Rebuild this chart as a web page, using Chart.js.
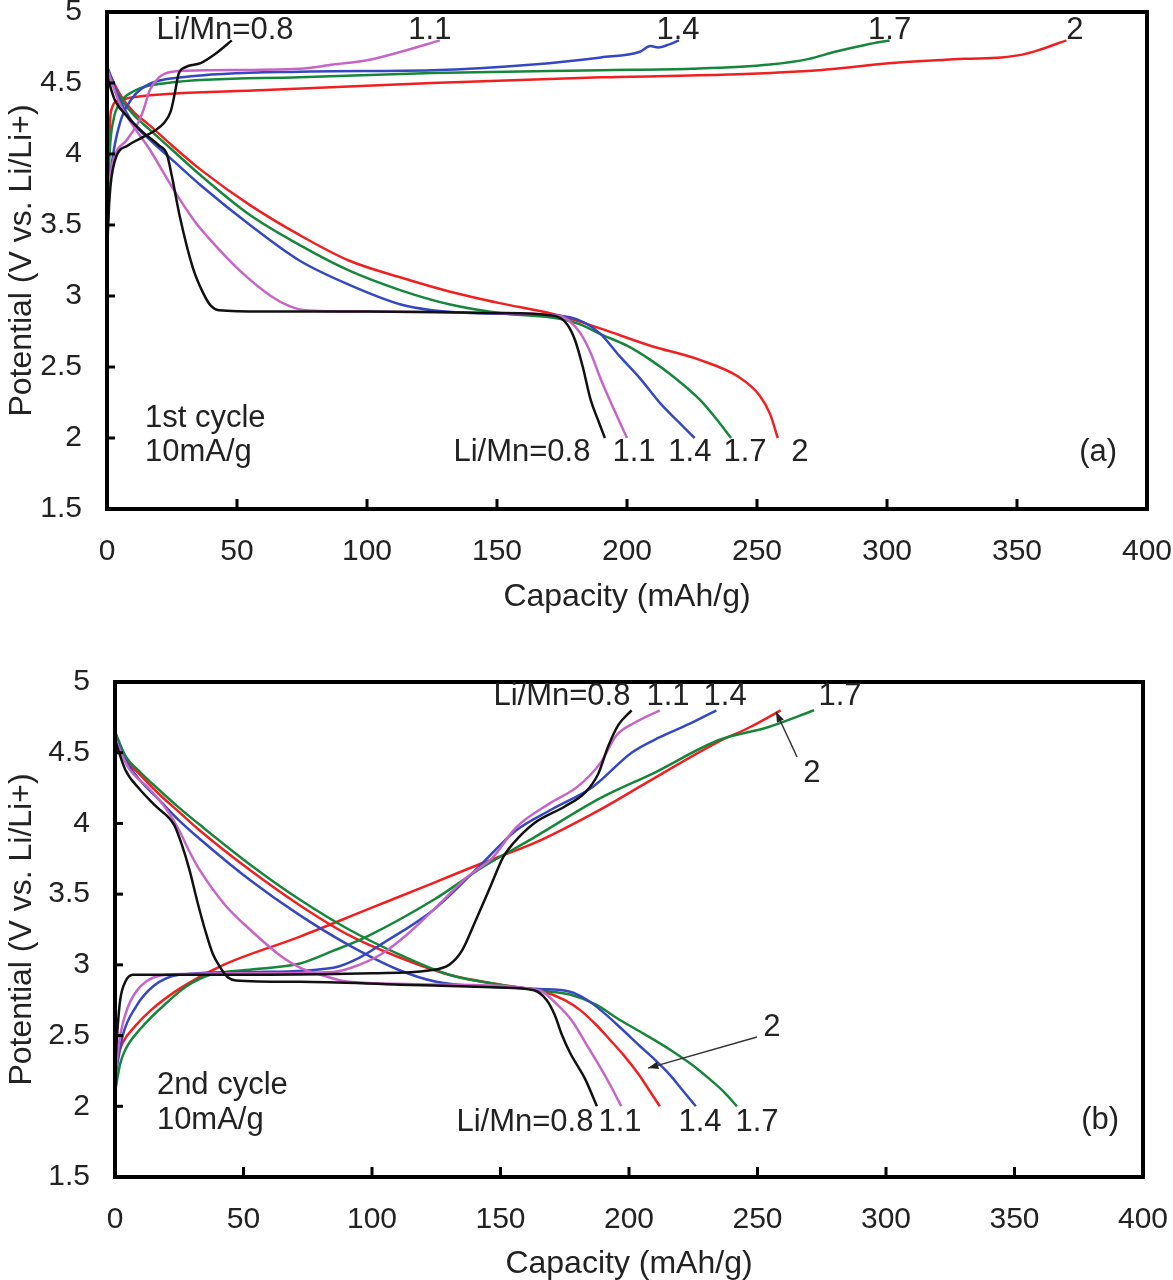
<!DOCTYPE html>
<html>
<head>
<meta charset="utf-8">
<script src="https://cdn.jsdelivr.net/npm/chart.js@4.4.1/dist/chart.umd.min.js"></script>
<style>
  html, body { margin:0; padding:0; background:#fff; overflow:hidden; }
  .panel { position:absolute; left:0; }
  #panelA { top:0; }
  #panelB { top:670px; }
</style>
</head>
<body>
<div class="panel" id="panelA"><canvas id="chartA" width="1173" height="620"></canvas></div>
<div class="panel" id="panelB"><canvas id="chartB" width="1173" height="610"></canvas></div>
<script>
// Data: [capacity mAh/g, potential V]
const ratios = ['0.8', '1.1', '1.4', '1.7', '2'];
const colors = ['#111111', '#c765c7', '#3448c0', '#16863a', '#f02020'];
const xTicks = [0, 50, 100, 150, 200, 250, 300, 350, 400];
const yTicks = [1.5, 2, 2.5, 3, 3.5, 4, 4.5, 5];

// (a) 1st cycle
const a08Charge = [[0,3.3],[1,3.7],[3,3.95],[8,4.06],[14,4.12],[18,4.16],[22,4.22],[24.5,4.3],[26,4.42],[27.5,4.56],[30,4.61],[36,4.64],[42,4.71],[48,4.8]];
const a11Charge = [[0,3.5],[1,3.8],[2.5,3.96],[7.7,4.1],[12,4.22],[14,4.31],[16.5,4.45],[20,4.54],[25,4.58],[40,4.59],[74,4.6],[87,4.63],[100,4.66],[113,4.72],[128,4.8]];
const a14Charge = [[0,3.4],[1,3.75],[2,3.95],[5,4.22],[10,4.4],[16,4.49],[29,4.54],[74,4.58],[125,4.59],[164,4.63],[190,4.68],[205,4.72],[209,4.76],[212,4.75],[216,4.77],[220,4.8]];
const a17Charge = [[0,3.3],[0.5,3.7],[1,4.0],[2.5,4.24],[5,4.36],[10,4.44],[23,4.5],[74,4.54],[125,4.57],[190,4.59],[225,4.6],[255,4.63],[270,4.67],[280,4.72],[292,4.77],[301,4.8]];
const a2Charge = [[0,3.2],[0.5,3.8],[1.5,4.3],[5,4.38],[10,4.4],[61,4.45],[125,4.5],[190,4.54],[239,4.56],[274,4.59],[302,4.64],[330,4.67],[344,4.68],[352,4.7],[358,4.73],[369,4.8]];

const a08Discharge = [[0,4.55],[3,4.38],[8,4.26],[14,4.15],[20,4.06],[23,4.0],[25,3.84],[28,3.56],[33,3.2],[37,3.02],[40,2.93],[43,2.9],[60,2.89],[100,2.89],[150,2.88],[172,2.86],[177,2.8],[180,2.69],[183,2.5],[186,2.27],[189,2.12],[191.5,2.0]];
const a11Discharge = [[0,4.6],[5,4.35],[10,4.2],[16.5,4.03],[22,3.86],[28,3.68],[34,3.52],[40,3.39],[51,3.18],[63,3.0],[70,2.93],[76,2.9],[100,2.89],[150,2.88],[174,2.86],[178,2.82],[182,2.74],[186,2.6],[190,2.41],[195,2.2],[200,2.0]];
const a14Discharge = [[0,4.62],[5,4.38],[10,4.22],[16.5,4.1],[25,3.96],[36,3.78],[55,3.5],[74,3.25],[93,3.08],[113,2.94],[125,2.9],[140,2.88],[165,2.87],[178,2.85],[184,2.81],[190,2.73],[197,2.58],[205,2.42],[213,2.24],[220,2.11],[226,2.0]];
const a17Discharge = [[0,4.58],[5,4.4],[10,4.28],[16.5,4.17],[25,4.03],[36,3.85],[55,3.57],[74,3.36],[93,3.18],[113,3.04],[132,2.94],[151,2.88],[174,2.84],[182,2.8],[190,2.73],[200,2.65],[209,2.55],[218,2.43],[228,2.27],[235,2.12],[240,2.0]];
const a2Discharge = [[0,4.6],[5,4.42],[10,4.3],[16.5,4.2],[25,4.06],[36,3.89],[55,3.64],[74,3.43],[93,3.25],[113,3.13],[132,3.03],[151,2.95],[170,2.88],[180,2.83],[190,2.77],[209,2.65],[228,2.55],[243,2.43],[251,2.3],[255,2.17],[258,2.0]];

// (b) 2nd cycle
const b08Charge = [[0,2.25],[1,2.55],[2,2.75],[4,2.88],[7,2.93],[20,2.93],[60,2.93],[100,2.94],[122,2.96],[130,3.0],[135,3.1],[140,3.3],[146,3.55],[151,3.76],[155,3.86],[163,4.0],[175,4.12],[183,4.22],[188,4.35],[192,4.55],[196,4.7],[201,4.8]];
const b11Charge = [[0,2.2],[2,2.5],[5,2.7],[10,2.85],[20,2.93],[50,2.94],[85,2.95],[95,3.0],[104,3.08],[114,3.22],[124,3.39],[137,3.62],[147,3.76],[156,3.97],[169,4.14],[180,4.26],[189,4.43],[195,4.62],[202,4.71],[212,4.8]];
const b14Charge = [[0,2.2],[3,2.5],[8,2.7],[15,2.85],[25,2.93],[55,2.95],[85,2.98],[95,3.05],[104,3.15],[124,3.39],[143,3.72],[156,3.95],[170,4.1],[186,4.26],[201,4.5],[212,4.61],[223,4.7],[234,4.8]];
const b17Charge = [[0,2.1],[2,2.3],[4,2.4],[10,2.55],[20,2.73],[28,2.85],[37,2.93],[55,2.97],[72,3.01],[85,3.1],[98,3.2],[124,3.46],[143,3.69],[163,3.9],[189,4.18],[210,4.36],[235,4.59],[254,4.68],[272,4.8]];
const b2Charge = [[0,2.3],[3,2.45],[8,2.57],[14,2.68],[25,2.83],[41,2.99],[72,3.2],[98,3.39],[124,3.58],[143,3.72],[163,3.86],[189,4.1],[207,4.29],[234,4.57],[247,4.68],[259,4.8]];

const b08Discharge = [[0,4.59],[4,4.38],[9.7,4.24],[16,4.12],[23,3.99],[26,3.85],[29,3.67],[32,3.45],[35,3.25],[38,3.08],[41,2.98],[44,2.91],[47,2.89],[72,2.88],[111,2.86],[150,2.84],[163,2.82],[168,2.75],[171,2.65],[174,2.5],[177,2.38],[183,2.19],[187.5,2.0]];
const b11Discharge = [[0,4.6],[5,4.4],[13.6,4.24],[20,4.1],[25,3.95],[29,3.8],[33,3.67],[43,3.42],[52.5,3.25],[64,3.07],[72,2.98],[80,2.93],[91,2.88],[130,2.86],[165,2.82],[172,2.72],[178,2.6],[184,2.42],[189,2.27],[193,2.14],[197,2.0]];
const b14Discharge = [[0,4.62],[4,4.45],[10,4.3],[17,4.17],[25,4.02],[33,3.89],[52.5,3.6],[72,3.35],[91,3.14],[111,2.96],[125,2.88],[140,2.85],[165,2.83],[177,2.81],[183,2.76],[189,2.68],[197,2.55],[204,2.43],[210,2.33],[216,2.22],[221,2.11],[226,2.0]];
const b17Discharge = [[0,4.65],[4,4.48],[10,4.36],[17,4.24],[25,4.11],[33,3.99],[52.5,3.71],[72,3.46],[91,3.25],[111,3.07],[130,2.93],[150,2.86],[165,2.82],[177,2.79],[187,2.72],[196.5,2.61],[206,2.51],[216,2.4],[224,2.3],[231.5,2.19],[237,2.1],[242,2.0]];
const b2Discharge = [[0,4.62],[4,4.46],[10,4.34],[17,4.21],[25,4.08],[33,3.95],[52.5,3.67],[72,3.42],[91,3.21],[111,3.05],[130,2.93],[150,2.86],[167,2.81],[175,2.75],[181,2.68],[187,2.58],[192.6,2.47],[198,2.36],[204,2.22],[208,2.11],[212,2.0]];

// text notes, anchored in data units [text, capacity, potential, align]
const notesA = [
  ['Li/Mn=0.8', 45.4, 4.873, 'center'], ['1.1', 124.2, 4.873, 'center'], ['1.4', 219.6, 4.873, 'center'],
  ['1.7', 301, 4.873, 'center'], ['2', 372.3, 4.873, 'center'],
  ['Li/Mn=0.8', 159.6, 1.901, 'center'], ['1.1', 202.7, 1.901, 'center'], ['1.4', 224.2, 1.901, 'center'],
  ['1.7', 245.4, 1.901, 'center'], ['2', 266.5, 1.901, 'center'],
  ['1st cycle', 14.6, 2.141, 'left'], ['10mA/g', 14.6, 1.901, 'left'], ['(a)', 381.2, 1.901, 'center']
];
const notesB = [
  ['Li/Mn=0.8', 173.9, 4.9, 'center'], ['1.1', 215.2, 4.9, 'center'], ['1.4', 237.4, 4.9, 'center'],
  ['1.7', 282.1, 4.9, 'center'], ['2', 271.2, 4.356, 'center'], ['2', 255.6, 2.56, 'center'],
  ['Li/Mn=0.8', 159.5, 1.888, 'center'], ['1.1', 196.5, 1.888, 'center'], ['1.4', 227.6, 1.888, 'center'],
  ['1.7', 249.8, 1.888, 'center'],
  ['2nd cycle', 16.3, 2.15, 'left'], ['10mA/g', 16.3, 1.9, 'left'], ['(b)', 383.3, 1.9, 'center']
];
// arrows [fromCap, fromV, toCap, toV]
const arrowsB = [[265.4, 4.47, 257.2, 4.79], [249.8, 2.49, 207.4, 2.27]];

const FONT = "'Liberation Sans', Arial, sans-serif";

function curve(points, color){
  return {
    data: points.map(p => ({x: p[0], y: p[1]})),
    borderColor: color, borderWidth: 2.5, pointRadius: 0,
    showLine: true, fill: false, cubicInterpolationMode: 'monotone'
  };
}

function framePlugin(notes, arrows){
  return {
    id: 'frame',
    afterDatasetsDraw(chart){
      const {ctx, chartArea: a, scales: {x, y}} = chart;
      ctx.save();
      ctx.strokeStyle = '#000';
      ctx.lineWidth = 3;
      xTicks.forEach(v => {
        if(v <= x.min || v >= x.max) return;
        const px = x.getPixelForValue(v);
        ctx.beginPath(); ctx.moveTo(px, a.bottom); ctx.lineTo(px, a.bottom - 10); ctx.stroke();
      });
      yTicks.forEach(v => {
        if(v <= y.min || v >= y.max) return;
        const py = y.getPixelForValue(v);
        ctx.beginPath(); ctx.moveTo(a.left, py); ctx.lineTo(a.left + 8, py); ctx.stroke();
      });
      ctx.lineWidth = 4;
      ctx.strokeRect(a.left, a.top, a.right - a.left, a.bottom - a.top);

      ctx.fillStyle = '#222';
      ctx.font = '31px ' + FONT;
      ctx.textBaseline = 'middle';
      notes.forEach(n => {
        ctx.textAlign = n[3];
        ctx.fillText(n[0], x.getPixelForValue(n[1]), y.getPixelForValue(n[2]));
      });

      ctx.strokeStyle = '#333';
      ctx.fillStyle = '#222';
      ctx.lineWidth = 1.5;
      (arrows || []).forEach(ar => {
        const x0 = x.getPixelForValue(ar[0]), y0 = y.getPixelForValue(ar[1]);
        const x1 = x.getPixelForValue(ar[2]), y1 = y.getPixelForValue(ar[3]);
        ctx.beginPath(); ctx.moveTo(x0, y0); ctx.lineTo(x1, y1); ctx.stroke();
        const ang = Math.atan2(y1 - y0, x1 - x0);
        ctx.beginPath();
        ctx.moveTo(x1, y1);
        ctx.lineTo(x1 - 11 * Math.cos(ang - 0.35), y1 - 11 * Math.sin(ang - 0.35));
        ctx.lineTo(x1 - 11 * Math.cos(ang + 0.35), y1 - 11 * Math.sin(ang + 0.35));
        ctx.closePath(); ctx.fill();
      });
      ctx.restore();
    }
  };
}

function makeChart(id, curves, area, notes, arrows, titleBottomPad){
  const canvas = document.getElementById(id);
  const W = canvas.width, H = canvas.height;
  const datasets = [];
  curves.forEach((pair, i) => {
    datasets.push(curve(pair[0], colors[i]));
    datasets.push(curve(pair[1], colors[i]));
  });
  return new Chart(canvas.getContext('2d'), {
    type: 'scatter',
    data: { datasets },
    options: {
      responsive: false,
      animation: false,
      layout: { padding: { top: area.top, right: W - area.right, left: 0, bottom: 0 } },
      plugins: { legend: { display: false }, tooltip: { enabled: false } },
      scales: {
        x: {
          type: 'linear', min: 0, max: 400,
          afterBuildTicks: s => { s.ticks = xTicks.map(v => ({value: v})); },
          afterFit: s => { s.height = H - area.bottom; s.paddingLeft = 0; s.paddingRight = 0; },
          grid: { display: false, drawTicks: false },
          border: { display: false },
          ticks: { color: '#222', font: { family: FONT, size: 30 }, padding: 25, maxRotation: 0, autoSkip: false },
          title: { display: true, text: 'Capacity (mAh/g)', color: '#222',
                   font: { family: FONT, size: 32, lineHeight: 1 }, padding: { top: 0, bottom: titleBottomPad } }
        },
        y: {
          type: 'linear', min: 1.5, max: 5,
          afterBuildTicks: s => { s.ticks = yTicks.map(v => ({value: v})); },
          afterFit: s => { s.width = area.left; s.paddingTop = 0; s.paddingBottom = 0; },
          grid: { display: false, drawTicks: false },
          border: { display: false },
          ticks: { color: '#222', font: { family: FONT, size: 30 }, padding: 25, autoSkip: false,
                   callback: v => String(v) },
          title: { display: true, text: 'Potential (V vs. Li/Li+)', color: '#222',
                   font: { family: FONT, size: 32, lineHeight: 1 }, padding: { top: 6, bottom: 0 } }
        }
      }
    },
    plugins: [framePlugin(notes, arrows)]
  });
}

makeChart('chartA',
  [[a08Charge, a08Discharge], [a11Charge, a11Discharge], [a14Charge, a14Discharge], [a17Charge, a17Discharge], [a2Charge, a2Discharge]],
  { left: 107, top: 12, right: 1147, bottom: 509 }, notesA, null, 7);

makeChart('chartB',
  [[b08Charge, b08Discharge], [b11Charge, b11Discharge], [b14Charge, b14Discharge], [b17Charge, b17Discharge], [b2Charge, b2Discharge]],
  { left: 115, top: 12, right: 1143, bottom: 507 }, notesB, arrowsB, 0);
</script>
</body>
</html>
